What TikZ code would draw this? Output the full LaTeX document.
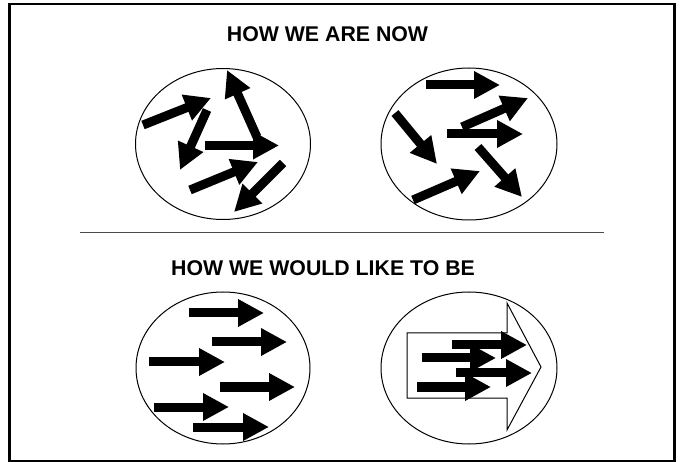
\documentclass[tikz,border=0pt]{standalone}
\usepackage{fontspec}
\setmainfont{Liberation Sans}
\usepackage{tikz}
\usetikzlibrary{arrows.meta}
\definecolor{rulegray}{HTML}{4A4A4A}

\begin{document}
\begin{tikzpicture}[x=1pt,y=-1pt,
  fat/.style={line width=9pt,-{Triangle[length=26pt,width=26pt]}},
  title/.style={font=\fontsize{21.3}{24}\selectfont\bfseries,inner sep=0pt}]
  \useasboundingbox (0,0) rectangle (683,462);
  \draw[line width=2.5pt] (9.5,4) rectangle (674.5,461);
  \node[title] (now) at (327.5,34) {HOW WE ARE NOW};
  \node[title] (tobe) at (323,268) {HOW WE WOULD LIKE TO BE};
  \draw[line width=1pt,rulegray] (80,233) -- (604,233);
  % the four circles
  \draw[line width=1pt] (223,144) ellipse (87.5 and 75.5);
  \draw[line width=1pt] (469,144) ellipse (88 and 76);
  \draw[line width=1pt] (223,368) ellipse (87 and 76);
  \draw[line width=1pt] (469,368) ellipse (88 and 76);
  % now, left
  \draw[fat] (143,125) -- (211,98);
  \draw[fat] (207,110) -- (180,170);
  \draw[fat] (257,137) -- (227,70);
  \draw[fat] (205,145.5) -- (279,145.5);
  \draw[fat] (190,190) -- (258,162);
  \draw[fat] (283,163) -- (234,212);
  % now, right
  \draw[fat] (426,85) -- (500,85);
  \draw[fat] (462,127) -- (528,98);
  \draw[fat] (447,134) -- (523,134);
  \draw[fat] (395,113) -- (437,164);
  \draw[fat] (478,147) -- (522,197);
  \draw[fat] (413,200) -- (480,171);
  % to be, left
  \draw[fat] (189,313) -- (264,313);
  \draw[fat] (212,342) -- (287,342);
  \draw[fat] (149,362) -- (225,362);
  \draw[fat] (220,387) -- (295,387);
  \draw[fat] (154,407) -- (229,407);
  \draw[fat] (193,427) -- (269,427);
  % to be, right
  \draw[line width=1pt] (407,333) -- (507,333) -- (507,303) -- (541,367)
    -- (507,430) -- (507,398) -- (407,398) -- cycle;
  \draw[fat] (452,345) -- (527,345);
  \draw[fat] (422,358) -- (496,358);
  \draw[fat] (456,373) -- (532,373);
  \draw[fat] (417,387) -- (491,387);
\end{tikzpicture}
\end{document}
